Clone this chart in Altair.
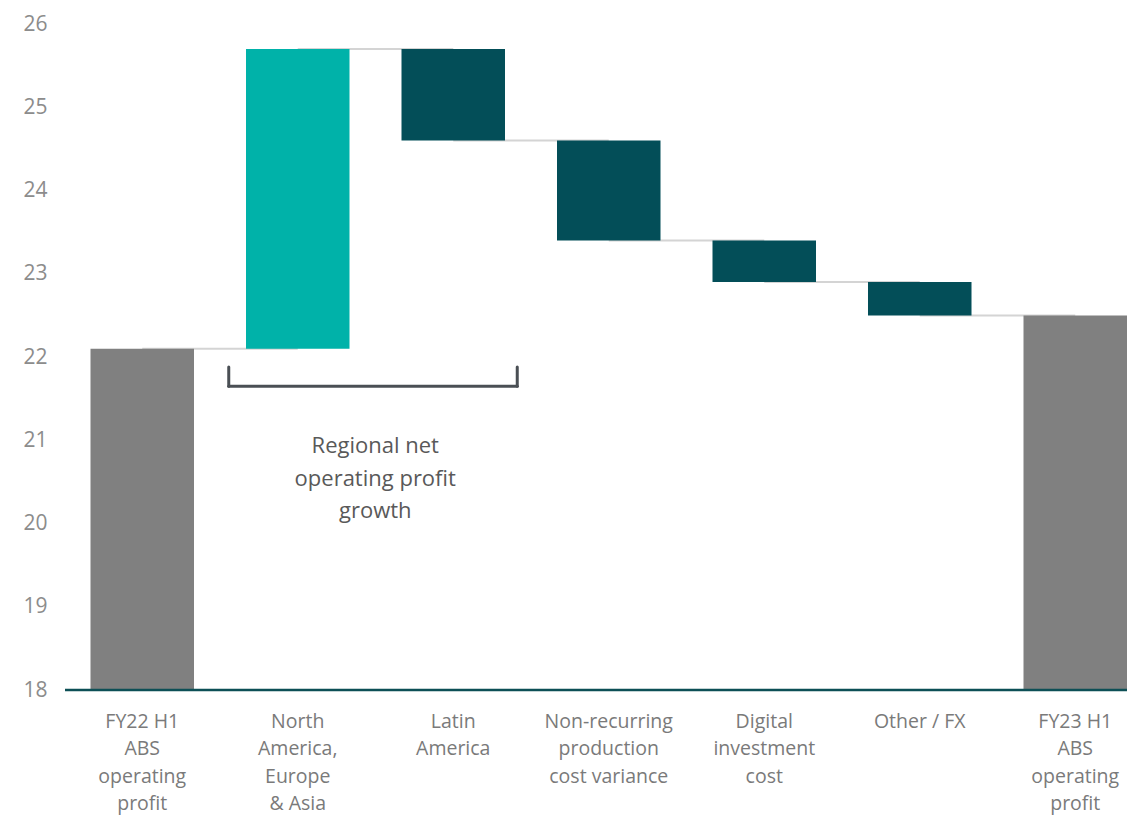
import altair as alt
import pandas as pd

# ---- data ----
categories = [
    "FY22 H1|ABS|operating|profit",
    "North|America,|Europe|& Asia",
    "Latin|America",
    "Non-recurring|production|cost variance",
    "Digital|investment|cost",
    "Other / FX",
    "FY23 H1|ABS|operating|profit",
]
kinds = ["total", "increase", "decrease", "decrease", "decrease", "decrease", "total"]
start_value = 22.1
deltas = [3.6, -1.1, -1.2, -0.5, -0.4]
end_value = 22.5
axis_min = 18
axis_max = 26

annotation_lines = ["Regional net", "operating profit", "growth"]
bracket_from = categories[1]
bracket_to = categories[2]
bracket_low = 21.65
bracket_high = 21.88
annotation_y = 20.93

# ---- build waterfall table ----
rows = []
level = start_value
rows.append({"cat": categories[0], "lo": axis_min, "hi": start_value, "kind": kinds[0], "level": start_value})
for c, k, d in zip(categories[1:-1], kinds[1:-1], deltas):
    new = round(level + d, 4)
    rows.append({"cat": c, "lo": min(level, new), "hi": max(level, new), "kind": k, "level": new})
    level = new
rows.append({"cat": categories[-1], "lo": axis_min, "hi": end_value, "kind": kinds[-1], "level": end_value})
df = pd.DataFrame(rows)

conn = pd.DataFrame({
    "cat": categories[:-1],
    "next": categories[1:],
    "y": df["level"].tolist()[:-1],
})

FONT = "Open Sans"

x_scale = alt.Scale(domain=categories, paddingInner=0.3344, paddingOuter=0.082, align=1)
y_scale = alt.Scale(domain=[axis_min, axis_max], zero=False, nice=False)

x_enc = alt.X(
    "cat:N",
    sort=categories,
    scale=x_scale,
    axis=alt.Axis(
        title=None,
        labelAngle=0,
        labelAlign="center",
        labelExpr="split(datum.label, '|')",
        ticks=False,
        domain=False,
        labelFont=FONT,
        labelFontSize=19.5,
        labelColor="#7a7a7a",
        labelLineHeight=27.5,
        labelPadding=22,
        labelBaseline="top",
    ),
)

connectors = alt.Chart(conn).mark_rule(color="#d4d4d4", strokeWidth=2).encode(
    x=alt.X("cat:N", sort=categories, scale=x_scale),
    x2="next:N",
    y=alt.Y("y:Q", scale=y_scale),
)

bars = alt.Chart(df).mark_bar().encode(
    x=x_enc,
    y=alt.Y(
        "lo:Q",
        scale=y_scale,
        axis=alt.Axis(
            title=None,
            values=list(range(axis_min, axis_max + 1)),
            format="d",
            grid=False,
            ticks=False,
            domain=False,
            labelFont=FONT,
            labelFontSize=21,
            labelColor="#8c8c8c",
            labelPadding=18,
        ),
    ),
    y2="hi:Q",
    color=alt.Color(
        "kind:N",
        scale=alt.Scale(domain=["total", "increase", "decrease"], range=["#808080", "#00B2A9", "#034E58"]),
        legend=None,
    ),
)

baseline = alt.Chart(pd.DataFrame({"y": [axis_min]})).mark_rule(color="#0d4f56", strokeWidth=2.5).encode(
    y=alt.Y("y:Q", scale=y_scale)
)

bracket_df = pd.DataFrame({"a": [bracket_from], "b": [bracket_to], "lo": [bracket_low], "hi": [bracket_high]})
bcolor = "#4a4f54"
bracket_h = alt.Chart(bracket_df).mark_rule(color=bcolor, strokeWidth=3, xOffset=-69, x2Offset=64, strokeCap="round").encode(
    x=alt.X("a:N", sort=categories, scale=x_scale),
    x2="b:N",
    y=alt.Y("lo:Q", scale=y_scale),
)
bracket_l = alt.Chart(bracket_df).mark_rule(color=bcolor, strokeWidth=3, xOffset=-69, strokeCap="round").encode(
    x=alt.X("a:N", sort=categories, scale=x_scale),
    y=alt.Y("lo:Q", scale=y_scale),
    y2="hi:Q",
)
bracket_r = alt.Chart(bracket_df).mark_rule(color=bcolor, strokeWidth=3, xOffset=64, strokeCap="round").encode(
    x=alt.X("b:N", sort=categories, scale=x_scale),
    y=alt.Y("lo:Q", scale=y_scale),
    y2="hi:Q",
)

annot = alt.Chart(pd.DataFrame({"a": [bracket_from], "y": [annotation_y]})).mark_text(
    text=annotation_lines,
    font=FONT,
    fontSize=22,
    color="#595959",
    lineHeight=32.5,
    baseline="middle",
    align="center",
    dx=77.5,
).encode(
    x=alt.X("a:N", sort=categories, scale=x_scale),
    y=alt.Y("y:Q", scale=y_scale),
)

chart = alt.layer(connectors, bars, baseline, bracket_h, bracket_l, bracket_r, annot).properties(
    width=1062,
    height=666,
    autosize="none",
    padding={"left": 57, "top": 16, "right": 0, "bottom": 134},
).configure(background="white").configure_view(stroke=None)

chart.save("out.html", embed_options={"renderer": "svg", "actions": False})
